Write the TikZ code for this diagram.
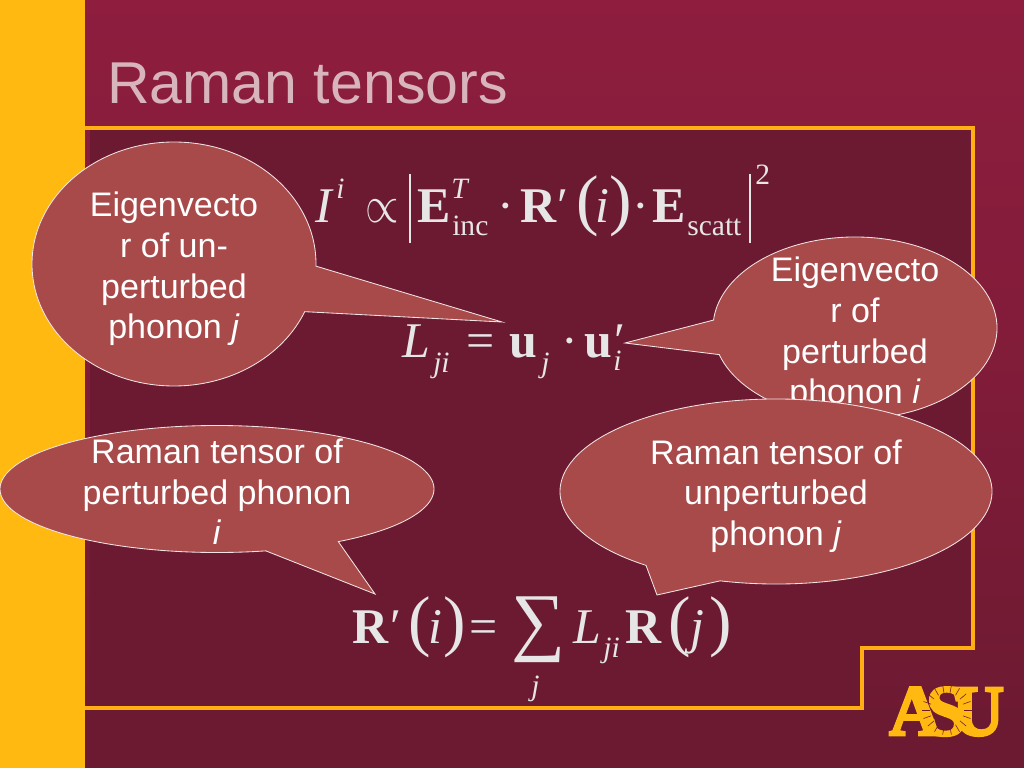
\documentclass[tikz,border=0pt]{standalone}
\usepackage{fontspec}
\setmainfont{Liberation Sans}
\newfontfamily\eqfont{Liberation Serif}
\newfontfamily\logofont[FakeBold=4]{Liberation Serif Bold}
\definecolor{maroontop}{HTML}{8E1D3E}
\definecolor{maroonlow}{HTML}{6B1A31}
\definecolor{gold}{HTML}{FFB911}
\definecolor{rule}{HTML}{FFAE14}
\definecolor{bubblefill}{HTML}{A94A4A}
\definecolor{eqgray}{HTML}{E6E6E6}
\definecolor{titlepink}{HTML}{D8B4BC}
\newcommand{\eqsize}[1]{\fontsize{#1}{#1}\selectfont}
\begin{document}
\begin{tikzpicture}[x=0.025cm,y=-0.025cm,
   bubble/.style={draw=white!85!bubblefill,fill=bubblefill,line width=0.6pt},
   bubbletext/.style={text=white,align=center,inner sep=0pt,font=\fontsize{24.2}{28.9}\selectfont},
   eq/.style={anchor=base west,inner sep=0pt,text=eqgray,font=\eqfont\eqsize{35.5}},
   eqs/.style={eq,font=\eqfont\eqsize{21}},
   eqp/.style={eq,font=\eqfont\eqsize{48}},
   logo/.style={anchor=base west,inner sep=0pt,text=gold,font=\logofont\eqsize{51}}
   ]
  \useasboundingbox (0,0) rectangle (1024,768);

  % -- background
  \shade[top color=maroontop,bottom color=maroonlow,middle color=maroontop!60!maroonlow] (0,0) rectangle (1024,768);
  \fill[maroonlow] (90,130) -- (973,130) -- (973,648) -- (862,648) -- (862,708) -- (90,708) -- cycle;
  \fill[maroonlow] (85,708) rectangle (1024,768);
  \fill[gold] (0,0) rectangle (85,768);
  \draw[rule,line width=3pt] (85,128) -- (973,128) -- (973,648) -- (862,648) -- (862,708) -- (85,708);
  \node[anchor=base west,inner sep=0pt,text=titlepink,font=\fontsize{42}{42}\selectfont] (title) at (107,104) {Raman tensors};

  % -- logo
  \node[logo] (logoA) at (889,735) {A};
  \node[logo] (logoS) at (926,735) {S};
  \node[logo] (logoU) at (952,735) {U};
  \foreach \a in {0,20,...,340}
    \draw[maroonlow,line width=0.4pt] (947,710)+(\a:17) -- +(\a:25);

  % -- top formula
  \node[eq] (eI) at (315,222) {\textit{I}};
  \node[eqs] (eIsup) at (336,198) {\textit{i}};
  \node[eq] (eprop) at (365,222) {\scalebox{1.23}[1.5]{$\propto$}};
  \node[eq] (eE) at (417,222) {\textbf{E}};
  \node[eqs] (eT) at (451,198) {\textit{T}};
  \node[eqs] (einc) at (452,235) {inc};
  \node[eq] (edotl) at (497,222) {·};
  \node[eq] (eR) at (520,222) {\textbf{R}};
  \node[eq] (eRp) at (557,222) {′};
  \node[eqp] (elp) at (576,222) {(};
  \node[eq] (ei) at (595,222) {\textit{i}};
  \node[eqp] (erp) at (609,222) {)};
  \node[eq] (edotr) at (632,222) {·};
  \node[eq] (eEs) at (652,222) {\textbf{E}};
  \node[eqs] (escatt) at (687,235) {scatt};
  \node[eqs] (etwo) at (755,185) {2};
  \coordinate (barAt) at (410,174);
  \coordinate (barAb) at (410,243);
  \coordinate (barBt) at (750,174);
  \coordinate (barBb) at (750,243);
  \draw[eqgray,line width=1pt] (barAt) -- (barAb);
  \draw[eqgray,line width=1pt] (barBt) -- (barBb);

  % -- middle formula
  \node[eq] (mL) at (402,357) {\textit{L}};
  \node[eqs] (mji) at (433,372) {\textit{ji}};
  \node[eq] (meq) at (466,357) {=};
  \node[eq] (mu) at (509,357) {\textbf{u}};
  \node[eqs] (mj) at (541,372) {\textit{j}};
  \node[eq] (mdot) at (561,357) {·};
  \node[eq] (mup) at (584,357) {\textbf{u}};
  \node[eq] (mprime) at (614,357) {′};
  \node[eqs] (mi) at (613,370) {\textit{i}};

  % -- bottom formula
  \node[eq] (bR) at (352,643) {\textbf{R}};
  \node[eq] (bRp) at (390,643) {′};
  \node[eqp] (blp) at (408,643) {(};
  \node[eq] (bi) at (428,643) {\textit{i}};
  \node[eqp] (brp) at (443,643) {)};
  \node[eq] (beq) at (469,643) {=};
  \node[eq,font=\eqfont\eqsize{54}] (bsum) at (511,646) {∑};
  \node[eqs] (bj) at (531,695) {\textit{j}};
  \node[eq] (bL) at (573,643) {\textit{L}};
  \node[eqs] (bji) at (603,657) {\textit{ji}};
  \node[eq] (bRj) at (625,643) {\textbf{R}};
  \node[eqp] (bljp) at (668,643) {(};
  \node[eq] (bjj) at (690,643) {\textit{j}};
  \node[eqp] (brjp) at (709,643) {)};

  % -- callouts
  \coordinate (tipA) at (502,322);
  \coordinate (tipB) at (625,343);
  \coordinate (tipC) at (375,594);
  \coordinate (tipD) at (657,595);
  \draw[bubble,shift={(174,264)}] (1:142 and 122) arc[start angle=1,end angle=-337,x radius=142,y radius=122] -- (tipA) -- cycle;
  \node[bubbletext] (textA) at (174,269) {Eigenvecto\\r of un-\\perturbed\\phonon \textit{j}};
  \draw[bubble,shift={(855,328)}] (-197:142 and 91) arc[start angle=-197,end angle=-535,x radius=142,y radius=91] -- (tipB) -- cycle;
  \node[bubbletext] (textB) at (855,334) {Eigenvecto\\r of\\perturbed\\phonon \textit{i}};
  \draw[bubble,shift={(217,489)}] (56:217 and 63.5) arc[start angle=56,end angle=-283,x radius=217,y radius=63.5] -- (tipC) -- cycle;
  \node[bubbletext] (textC) at (217,492) {Raman tensor of\\perturbed phonon\\\textit{i}};
  \draw[bubble,shift={(776,491.5)}] (-255:216 and 92.5) arc[start angle=-255,end angle=-593,x radius=216,y radius=92.5] -- (tipD) -- cycle;
  \node[bubbletext] (textD) at (776,496) {Raman tensor of\\unperturbed\\phonon \textit{j}};
\end{tikzpicture}
\end{document}
